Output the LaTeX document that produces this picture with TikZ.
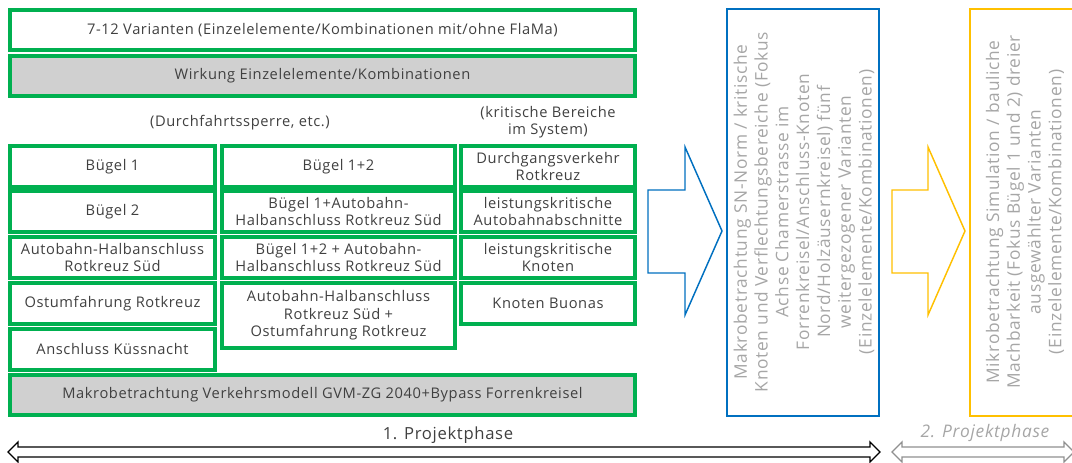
\documentclass[tikz,border=0pt]{standalone}
\usepackage{fontspec}
\setmainfont{Open Sans}[LetterSpace=4]
\definecolor{gr}{HTML}{00B050}
\definecolor{txt}{HTML}{404040}
\definecolor{lg}{HTML}{A6A6A6}
\definecolor{fillg}{HTML}{D0D0D0}
\definecolor{bl}{HTML}{0070C0}
\definecolor{ye}{HTML}{FFC000}
\definecolor{ag}{HTML}{909090}
\begin{document}
\begin{tikzpicture}[x=0.75pt,y=-0.75pt,
  box/.style={draw=gr, line width=2.3pt, fill=white, align=center, text=txt,
    font=\fontsize{11}{13}\selectfont, inner sep=0pt, minimum height=41*0.75pt},
  wide/.style={box, minimum width=625*0.75pt, minimum height=40*0.75pt},
  grey/.style={fill=fillg},
  cA/.style={box, minimum width=205*0.75pt},
  cB/.style={box, minimum width=233*0.75pt},
  cC/.style={box, minimum width=174*0.75pt},
  note/.style={align=center, text=txt, font=\fontsize{11}{13}\selectfont},
  rot/.style={rotate=90, align=center, text=lg, font=\fontsize{13}{15.6}\selectfont},
  blockarrow/.style={line width=1.1pt, fill=white, line join=miter},
  dblarrow/.style={line width=1pt, fill=white, line join=miter}
]
\useasboundingbox (0,0) rectangle (1072,463);

% top boxes
\node[wide] (var) at (322.5,30) {7-12 Varianten (Einzelelemente/Kombinationen mit/ohne FlaMa)};
\node[wide, grey] (wirk) at (322.5,76) {Wirkung Einzelelemente/Kombinationen};

% headings
\node[note] (durch) at (240,123) {(Durchfahrtssperre, etc.)};
\node[note] (krit) at (548,122) {(kritische Bereiche\\im System)};

% column 1
\node[cA] (a1) at (112.5,166.5) {Bügel 1};
\node[cA] (a2) at (112.5,211.5) {Bügel 2};
\node[cA] (a3) at (112.5,257.5) {Autobahn-Halbanschluss\\Rotkreuz Süd};
\node[cA] (a4) at (112.5,303.5) {Ostumfahrung Rotkreuz};
\node[cA] (a5) at (112.5,349.5) {Anschluss Küssnacht};

% column 2
\node[cB] (b1) at (338.5,166.5) {Bügel 1+2};
\node[cB] (b2) at (338.5,211.5) {Bügel 1+Autobahn-\\Halbanschluss Rotkreuz Süd};
\node[cB] (b3) at (338.5,257.5) {Bügel 1+2 + Autobahn-\\Halbanschluss Rotkreuz Süd};
\node[cB, minimum height=65*0.75pt] (b4) at (338.5,315.5) {Autobahn-Halbanschluss\\Rotkreuz Süd +\\Ostumfahrung Rotkreuz};

% column 3
\node[cC] (c1) at (548,166.5) {Durchgangsverkehr\\Rotkreuz};
\node[cC] (c2) at (548,211.5) {leistungskritische\\Autobahnabschnitte};
\node[cC] (c3) at (548,257.5) {leistungskritische\\Knoten};
\node[cC] (c4) at (548,303.5) {Knoten Buonas};

% bottom grey
\node[wide, grey] (makro) at (322.5,395) {Makrobetrachtung Verkehrsmodell GVM-ZG 2040+Bypass Forrenkreisel};

% blue block arrow
\draw[blockarrow, draw=bl] (648,190) -- (685,190) -- (685,147) -- (722,231) -- (685,315) -- (685,273) -- (648,273) -- cycle;
% blue box
\draw[draw=bl, line width=1.1pt] (727,9) rectangle (879,416);
\node[rot] (bt) at (804,212) {Makrobetrachtung SN-Norm / kritische\\Knoten und Verflechtungsbereiche (Fokus\\Achse Chamerstrasse im\\Forrenkreisel/Anschluss-Knoten\\Nord/Holzäusernkreisel) fünf\\weitergezogener Varianten\\(Einzelelemente/Kombinationen)};

% yellow block arrow
\draw[blockarrow, draw=ye] (892,190) -- (928,190) -- (928,147) -- (965,231) -- (928,315) -- (928,273) -- (892,273) -- cycle;
% yellow box
\draw[draw=ye, line width=1.1pt] (970,9) rectangle (1090,416);
\node[rot] (yt) at (1025,212) {Mikrobetrachtung Simulation / bauliche\\Machbarkeit (Fokus Bügel 1 und 2) dreier\\ausgewählter Varianten\\(Einzelelemente/Kombinationen)};

% phase labels
\node[text=txt, font=\fontsize{12.5}{14}\selectfont] (p1) at (448,435) {1. Projektphase};
\node[text=lg, font=\fontsize{13}{14}\selectfont\itshape] (p2) at (985,433) {2. Projektphase};

% double arrows
\draw[dblarrow, draw=black] (8,452) -- (18,442) -- (18,447) -- (870,447) -- (870,442) -- (880,452) -- (870,462) -- (870,457) -- (18,457) -- (18,462) -- cycle;
\draw[dblarrow, draw=ag] (892,452) -- (902,442) -- (902,447) -- (1064,447) -- (1064,442) -- (1074,452) -- (1064,462) -- (1064,457) -- (902,457) -- (902,462) -- cycle;
\end{tikzpicture}
\end{document}
